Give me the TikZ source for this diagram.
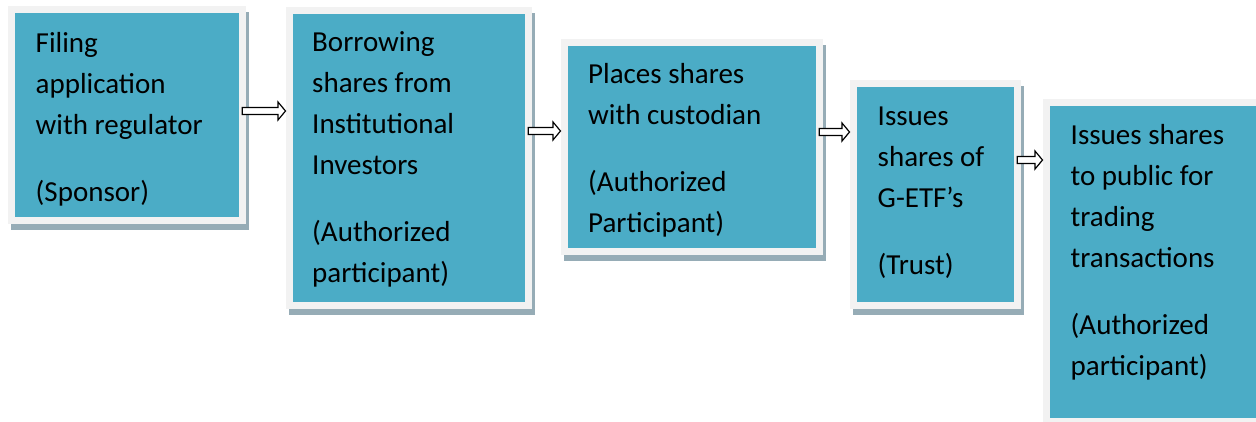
\documentclass[tikz,border=0pt]{standalone}
\usepackage{fontspec}
\setmainfont{Carlito}
\usepackage{tikz}
\usetikzlibrary{positioning,calc}
\definecolor{etfteal}{RGB}{75,172,198}
\definecolor{etfframe}{RGB}{242,242,242}
\definecolor{etfshadow}{RGB}{150,172,182}

\newcommand{\hollowarrow}[2]{%
  \draw[flowarrow] let \p1=(#1), \p2=(#2) in
    (\x1,\y1+3.5pt) -- (\x2-7.5pt,\y1+3.5pt) -- (\x2-7.5pt,\y1+9pt) -- (\x2,\y1)
    -- (\x2-7.5pt,\y1-9pt) -- (\x2-7.5pt,\y1-3.5pt) -- (\x1,\y1-3.5pt) -- cycle;}

\begin{document}
\begin{tikzpicture}[x=1pt, y=-1pt,
    etfbox/.style={rectangle, anchor=north west, inner sep=0pt, fill=etfteal,
      draw=etfframe, line width=7.5pt,
      preaction={fill=etfshadow, draw=etfshadow, transform canvas={xshift=3pt, yshift=-6pt}}},
    etftext/.style={anchor=north west, inner sep=0pt, align=left,
      font=\fontsize{29}{41}\selectfont},
    flowarrow/.style={draw=black, fill=white, line width=1.2pt, line join=miter}
  ]
    \useasboundingbox (0,0) rectangle (1256,421);
    \clip (0,0) rectangle (1256,421);

    \node[etfbox, minimum width=231, minimum height=211] (b1) at (7.5,5.5)    {};
    \node[etfbox, minimum width=239, minimum height=295] (b2) at (285.5,6.5)  {};
    \node[etfbox, minimum width=255, minimum height=209] (b3) at (560.5,38.5) {};
    \node[etfbox, minimum width=164, minimum height=222] (b4) at (849.5,79.5) {};
    \node[etfbox, minimum width=230, minimum height=319] (b5) at (1042.5,98.5) {};

    \node[etftext, below right=18pt and 28pt of b1.north west] (t1)
      {\strut Filing\\application\\with regulator\\[26pt](Sponsor)};
    \node[etftext, below right=16pt and 26.5pt of b2.north west] (t2)
      {\strut Borrowing\\shares from\\Institutional\\Investors\\[26pt](Authorized\\participant)};
    \node[etftext, below right=16pt and 27.5pt of b3.north west] (t3)
      {\strut Places shares\\with custodian\\[26pt](Authorized\\Participant)};
    \node[etftext, below right=17pt and 28pt of b4.north west] (t4)
      {\strut Issues\\shares of\\G-ETF’s\\[26pt](Trust)};
    \node[etftext, below right=17pt and 28pt of b5.north west] (t5)
      {\strut Issues shares\\to public for\\trading\\transactions\\[26pt](Authorized\\participant)};

    \coordinate (s1) at ($(b1.east)+(-3.75,0)$);
    \coordinate (s2) at ($(b2.east)+(-3.75,0)$);
    \coordinate (s3) at ($(b3.east)+(-3.75,0)$);
    \coordinate (s4) at ($(b4.east)+(-3.75,0)$);

    \hollowarrow{s1 |- 0,111}{b2.west |- 0,111}
    \hollowarrow{s2 |- 0,131}{b3.west |- 0,131}
    \hollowarrow{s3 |- 0,132}{b4.west |- 0,132}
    \hollowarrow{s4 |- 0,160}{b5.west |- 0,160}
  \end{tikzpicture}
\end{document}
